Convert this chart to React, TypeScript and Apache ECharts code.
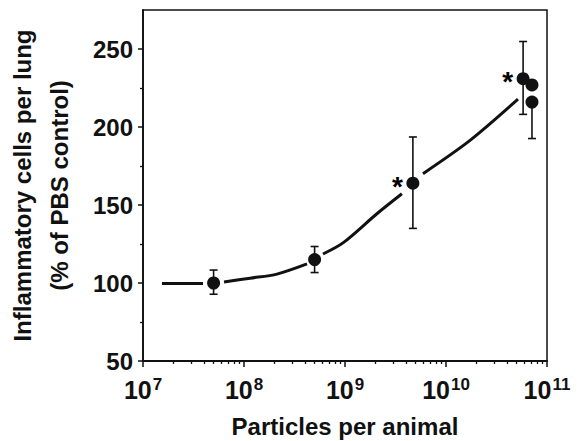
import React, { useEffect, useRef } from "react";
import * as echarts from "echarts";

// Measured data (particles per animal, % of PBS control)
const PARTICLES = [5e7, 5e8, 4.7e9, 5.8e10, 7.1e10, 7.1e10];
const CELLS = [100, 115, 164, 231, 227, 216];
const ERR_UP = [8.3, 8.4, 29.6, 23.8, 0, 0];
const ERR_DOWN = [7.2, 8.3, 29, 22.9, 0, 23.4];
const SIGNIFICANT = [false, false, true, true, false, false];

// Fitted curve (null = break around a marker)
const CURVE_PARTICLES: (number | null)[] = [
  1.54e7, 3.93e7, null, 6.34e7, 1.15e8, 2.12e8, 4.21e8, null,
  6.05e8, 9.55e8, 2.07e9, 3.66e9, null, 5.92e9, 1.73e10, 5.16e10,
];
const CURVE_CELLS: (number | null)[] = [
  99.6, 99.6, null, 100.6, 103.1, 105.7, 112.2, null,
  118.6, 125.7, 144.4, 157.2, null, 170.1, 191.4, 217.8,
];

// Axes
const X_EXPONENTS = [7, 8, 9, 10, 11];
const X_MINOR_MULTIPLES = [2, 3, 4, 5, 6, 7, 8, 9];
const Y_MAJOR = [50, 100, 150, 200, 250];
const Y_MINOR = [75, 125, 175, 225];
const Y_MIN = 50;
const Y_MAX = 275;

const FONT = "'Liberation Sans', Arial, Helvetica, sans-serif";
const INK = "#111";

export default function App() {
  const ref = useRef<HTMLDivElement>(null);
  useEffect(() => {
    if (!ref.current) return;
    const chart = echarts.init(ref.current, undefined, { renderer: "svg" });
    const xMin = X_EXPONENTS[0];
    const xMax = X_EXPONENTS[X_EXPONENTS.length - 1];
    const minorX: number[] = [];
    for (let e = xMin; e < xMax; e++) {
      for (const k of X_MINOR_MULTIPLES) minorX.push(Math.log10(k * Math.pow(10, e)));
    }
    const lg = (v: number) => Math.log10(v);
    const points = PARTICLES.map((p, i) => [lg(p), CELLS[i]]);
    const errData = PARTICLES.map((p, i) => [lg(p), CELLS[i], CELLS[i] - ERR_DOWN[i], CELLS[i] + ERR_UP[i]]);
    const curve = CURVE_PARTICLES.map((p, i) =>
      p == null || CURVE_CELLS[i] == null ? "-" : [lg(p), CURVE_CELLS[i]]
    );
    const stars = PARTICLES.map((p, i) => [lg(p), CELLS[i]]).filter((_, i) => SIGNIFICANT[i]);

    const option: any = {
      animation: false,
      backgroundColor: "#fff",
      grid: {
        left: 143, right: 39, top: 10, bottom: 80,
        containLabel: false, outerBoundsMode: "none",
        show: true, borderColor: INK, borderWidth: 1.5, backgroundColor: "transparent",
      },
      xAxis: [
        {
          type: "value", min: xMin, max: xMax, interval: 1, position: "bottom",
          axisLine: { show: true, lineStyle: { color: INK, width: 1.8 } },
          axisTick: { show: true, inside: false, length: 6, lineStyle: { color: INK, width: 1.5 } },
          splitLine: { show: false },
          axisLabel: {
            margin: 15, color: INK, fontFamily: FONT,
            formatter: (v: number) => `{b|10}{s|${v}}`,
            rich: {
              b: { fontSize: 25, fontWeight: "bold", fontFamily: FONT, color: INK, lineHeight: 28 },
              s: { fontSize: 17, fontWeight: "bold", fontFamily: FONT, color: INK, verticalAlign: "top", lineHeight: 28, padding: [0, 0, 12, 1] },
            },
          },
          name: "Particles per animal", nameLocation: "middle", nameGap: 53,
          nameTextStyle: { fontSize: 24, fontWeight: "bold", fontFamily: FONT, color: INK },
        },
        {
          type: "value", min: xMin, max: xMax, position: "bottom", gridIndex: 0,
          axisLine: { show: false },
          axisTick: { show: true, inside: false, length: 3, customValues: minorX, lineStyle: { color: INK, width: 1.3 } },
          axisLabel: { show: false },
          splitLine: { show: false },
        },
      ],
      yAxis: [
        {
          type: "value", min: Y_MIN, max: Y_MAX, interval: 50, position: "left",
          axisLine: { show: true, lineStyle: { color: INK, width: 1.8 } },
          axisTick: { show: true, inside: false, length: 5, customValues: Y_MAJOR, lineStyle: { color: INK, width: 1.5 } },
          splitLine: { show: false },
          axisLabel: {
            margin: 10, fontSize: 24, fontWeight: "bold", fontFamily: FONT, color: INK,
            customValues: Y_MAJOR,
            formatter: (v: number) => (Y_MAJOR.includes(v) ? String(v) : ""),
          },
          name: "Inflammatory cells per lung\n(% of PBS control)",
          nameLocation: "middle", nameGap: 65, nameRotate: 90,
          nameTextStyle: { fontSize: 24, fontWeight: "bold", fontFamily: FONT, color: INK, lineHeight: 37 },
        },
        {
          type: "value", min: Y_MIN, max: Y_MAX, interval: 25, position: "left", gridIndex: 0,
          axisLine: { show: false },
          axisTick: { show: true, inside: false, length: 3, customValues: Y_MINOR, lineStyle: { color: INK, width: 1.3 } },
          axisLabel: { show: false },
          splitLine: { show: false },
        },
      ],
      series: [
        {
          type: "line", data: curve, smooth: 0.3, connectNulls: false, showSymbol: false, symbol: "none",
          lineStyle: { color: INK, width: 3, opacity: 1 }, z: 2, silent: true,
        },
        {
          type: "custom", data: errData, z: 3, silent: true,
          renderItem: (params: any, api: any) => {
            const x = api.value(0);
            const lo = api.coord([x, api.value(2)]);
            const hi = api.coord([x, api.value(3)]);
            const c = api.coord([x, api.value(1)]);
            const cap = 4;
            const style = { stroke: INK, lineWidth: 1.6 };
            const children: any[] = [];
            if (Math.abs(hi[1] - c[1]) > 0.5) {
              children.push({ type: "line", shape: { x1: c[0], y1: c[1], x2: hi[0], y2: hi[1] }, style });
              children.push({ type: "line", shape: { x1: hi[0] - cap, y1: hi[1], x2: hi[0] + cap, y2: hi[1] }, style });
            }
            if (Math.abs(lo[1] - c[1]) > 0.5) {
              children.push({ type: "line", shape: { x1: c[0], y1: c[1], x2: lo[0], y2: lo[1] }, style });
              children.push({ type: "line", shape: { x1: lo[0] - cap, y1: lo[1], x2: lo[0] + cap, y2: lo[1] }, style });
            }
            return { type: "group", children };
          },
        },
        {
          type: "scatter", data: points, symbol: "circle", symbolSize: 13,
          itemStyle: { color: INK, opacity: 1 }, z: 4, silent: true,
        },
        {
          type: "scatter", data: stars, symbolSize: 0, z: 5, silent: true,
          itemStyle: { opacity: 1 },
          label: {
            show: true, formatter: "*", position: "left", distance: 10, offset: [0, 3],
            fontSize: 28, fontWeight: "bold", fontFamily: FONT, color: "#000", opacity: 1,
          },
        },
      ],
    };
    chart.setOption(option);
    return () => chart.dispose();
  }, []);
  return <div ref={ref} style={{ position: "fixed", left: 0, top: 0, width: 586, height: 441 }} />;
}
